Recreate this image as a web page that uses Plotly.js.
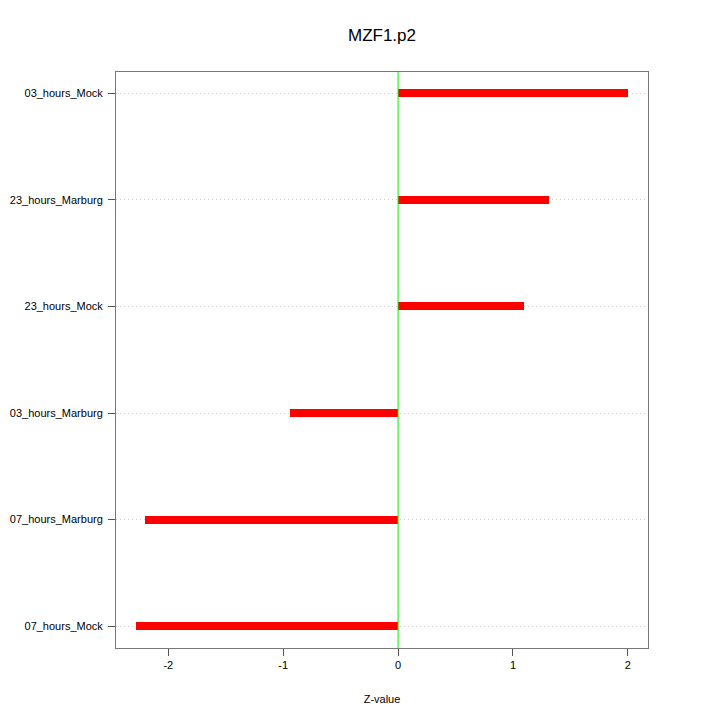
<!DOCTYPE html>
<html><head><meta charset="utf-8">
<script src="https://cdn.plot.ly/plotly-3.0.1.min.js"></script>
<style>html,body{margin:0;padding:0;background:#fff}#chart{width:720px;height:720px}</style>
</head><body><div id="chart"></div>
<script>
const categories = ["07_hours_Mock","07_hours_Marburg","03_hours_Marburg","23_hours_Mock","23_hours_Marburg","03_hours_Mock"];
const zValues = [-2.28, -2.20, -0.94, 1.10, 1.31, 2.00];
const xTicks = [-2, -1, 0, 1, 2];

const positions = categories.map((c, i) => i + 1);

const trace = {
  type: 'bar', orientation: 'h',
  x: zValues, y: positions, base: 0, width: 0.075,
  marker: {color: '#ff0000', line: {width: 0}},
  hoverinfo: 'x+text', text: categories, textposition: 'none'
};

const font = {family: 'Liberation Sans, Arial, sans-serif', size: 11, color: '#000'};
const layout = {
  width: 720, height: 720,
  margin: {l: 116, r: 72, t: 72, b: 72},
  paper_bgcolor: '#fff', plot_bgcolor: '#fff',
  showlegend: false,
  font: font,
  title: {text: 'MZF1.p2', xref: 'paper', x: 0.5, xanchor: 'center', y: 0.952, yanchor: 'middle',
          font: {family: 'Liberation Sans, Arial, sans-serif', size: 17, color: '#000'}},
  xaxis: {range: [-2.455, 2.175], tickvals: xTicks, ticktext: xTicks.map(String),
          showgrid: false, zeroline: false, showline: true, mirror: true, linecolor: '#777', linewidth: 1,
          ticks: 'outside', ticklen: 7, tickcolor: '#555',
          title: {text: 'Z-value', font: font, standoff: 25}},
  yaxis: {range: [0.795, 6.2], tickvals: positions, ticktext: categories,
          showgrid: true, gridcolor: '#cccccc', griddash: '1px,3px', gridwidth: 1,
          zeroline: false, showline: true, mirror: true, linecolor: '#777', linewidth: 1,
          ticks: 'outside', ticklen: 7, tickcolor: '#555', ticklabelstandoff: 3},
  shapes: [{type: 'line', xref: 'x', yref: 'paper', x0: 0, x1: 0, y0: 0, y1: 1,
            line: {color: '#00ee00', width: 1}}],
  bargap: 0
};
Plotly.newPlot('chart', [trace], layout, {staticPlot: true, displayModeBar: false});
</script></body></html>
